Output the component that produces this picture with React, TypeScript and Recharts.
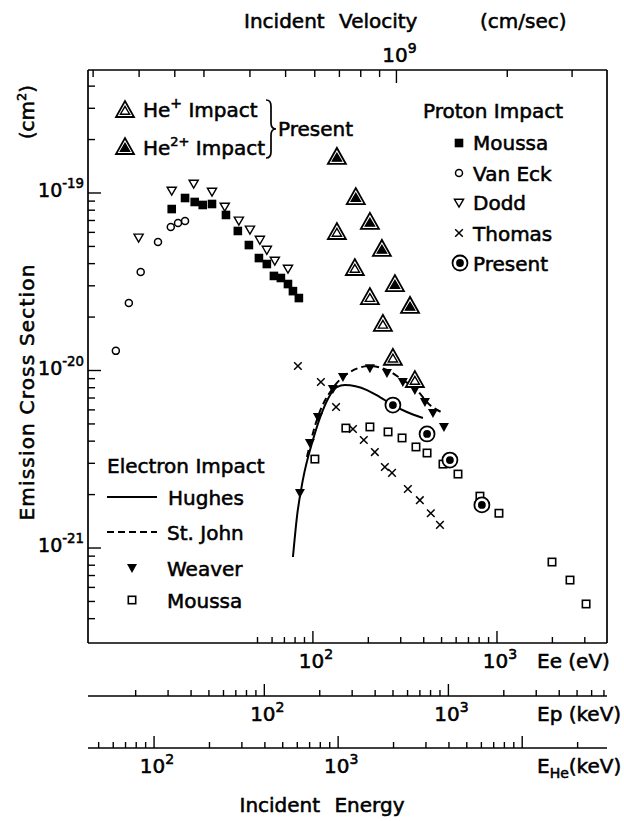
import React from "react";
import { ComposedChart, XAxis, YAxis, Scatter, Line } from "recharts";

// x values on the electron energy scale (eV), cross sections in units of 1e-21 cm^2
const vanEckE = [8.5, 10.0, 11.6, 14.4, 16.9, 18.5, 20.2];
const vanEckS = [12.9, 24.0, 35.9, 53.0, 64.3, 67.8, 69.6];

const doddE = [11.3, 17.1, 22.5, 28.3, 33.2, 39.6, 45.5, 51.5, 56.2, 62.1, 73.2];
const doddS = [55.8, 102.6, 112.4, 101.3, 83.4, 69.6, 61.9, 54.3, 47.7, 41.4, 37.3];

const moussaPE = [17.1, 20.2, 22.8, 25.2, 28.3, 33.7, 39.1, 44.9, 50.9, 56.2, 61.4, 67.0, 73.2, 77.9, 83.9];
const moussaPS = [81.2, 93.7, 89.0, 85.6, 86.7, 75.2, 61.1, 50.9, 43.0, 39.8, 34.1, 33.2, 30.7, 28.0, 25.6];

const thomasE = [82.9, 110.5, 133.6, 165, 189, 217, 246, 269, 328, 381, 437, 490];
const thomasS = [10.6, 8.61, 6.23, 4.68, 4.06, 3.47, 2.86, 2.65, 2.15, 1.86, 1.57, 1.35];

const presentPE = [272, 417, 555, 828];
const presentPS = [6.39, 4.39, 3.13, 1.75];

const heSingleE = [135, 169, 204, 240, 272, 358];
const heSingleS = [60.3, 37.8, 25.9, 18.3, 11.8, 8.84];

const heDoubleE = [135, 171, 204, 237, 279, 337];
const heDoubleS = [159.6, 94.9, 68.7, 48.4, 30.7, 23.1];

const weaverE = [85, 96.3, 106.4, 128.4, 145.6, 204, 252.5, 308, 358, 406, 449, 515];
const weaverS = [2.04, 3.91, 5.47, 7.87, 9.19, 10.3, 9.68, 8.61, 7.76, 6.65, 5.77, 4.81];

const moussaEE = [102.5, 151, 204, 256, 305, 363, 417, 509, 614, 808, 1025, 1990, 2493, 3048];
const moussaES = [3.17, 4.74, 4.81, 4.51, 4.17, 3.71, 3.43, 2.97, 2.61, 1.96, 1.57, 0.834, 0.66, 0.484];

const hughesE = [77.9, 81.9, 88.2, 100, 113.3, 135, 149, 196.6, 231, 272, 324, 396];
const hughesS = [0.89, 1.5, 2.42, 4.06, 5.99, 8.07, 8.28, 7.76, 7.09, 6.39, 5.84, 5.4];

const stJohnE = [92.8, 105, 128.4, 145.6, 204, 252.5, 308, 358, 432, 509];
const stJohnS = [3.26, 5.26, 7.97, 9.19, 10.6, 10.07, 8.84, 7.97, 6.39, 5.77];

// tick lists
const eeTicks = [50, 60, 70, 80, 90, 100, 200, 300, 400, 500, 600, 700, 800, 900, 1000, 2000, 3000];
const epTicks = [20, 30, 40, 50, 60, 70, 80, 90, 100, 200, 300, 400, 500, 600, 700, 800, 900, 1000, 2000, 3000, 4000, 5000, 6000, 7000];
const heTicks = [50, 60, 70, 80, 90, 100, 200, 300, 400, 500, 600, 700, 800, 900, 1000, 2000, 3000, 4000, 5000, 6000, 7000, 8000, 9000, 10000, 20000];
const velTicks = [0.15, 0.2, 0.25, 0.3, 0.4, 0.5, 0.6, 0.7, 0.8, 0.9, 1, 2, 3];
const sigTicks = [0.4, 0.5, 0.6, 0.7, 0.8, 0.9, 1, 2, 3, 4, 5, 6, 7, 8, 9, 10, 20, 30, 40, 50, 60, 70, 80, 90, 100, 200, 300, 400];

// same-velocity conversions onto the electron energy scale
const EP_EE = 0.5446; // eV (electron) per keV (proton)
const HE_EE = 0.1371; // eV (electron) per keV (He)
const VEL_EE = 284.3; // eV (electron) at 1e9 cm/sec

const EE_DOMAIN = [6, 3960];
const SIG_DOMAIN = [0.2917, 493];

const FONT = "'DejaVu Sans', sans-serif";
const K = "#000";
// heavier strokes to look like the inked lettering
const INK = { stroke: K, strokeWidth: 0.55 };

const pts = (xs: number[], ys: number[]) => xs.map((x, i) => ({ x, y: ys[i] }));

const isDecade = (v: number) => {
  const l = Math.log10(v);
  return Math.abs(l - Math.round(l)) < 1e-4;
};

function Pow({ x, y, exp, anchor = "middle", size = 20 }: any) {
  return (
    <text x={x} y={y} fontSize={size} fontFamily={FONT} textAnchor={anchor} fill={K} {...INK}>
      10
      <tspan dy={-size * 0.45} fontSize={size * 0.7}>
        {exp}
      </tspan>
    </text>
  );
}

// markers
const FilledSquare = ({ cx, cy }: any) => <rect x={cx - 4.3} y={cy - 4.3} width={8.6} height={8.6} fill={K} />;
const OpenCircle = ({ cx, cy }: any) => (
  <circle cx={cx} cy={cy} r={3.5} fill="#fff" stroke={K} strokeWidth={1.5} />
);
const OpenDown = ({ cx, cy }: any) => (
  <path
    d={`M${cx - 4.6},${cy - 3.8}L${cx + 4.6},${cy - 3.8}L${cx},${cy + 4.2}Z`}
    fill="#fff"
    stroke={K}
    strokeWidth={1.4}
  />
);
const Cross = ({ cx, cy }: any) => (
  <path
    d={`M${cx - 3.8},${cy - 3.8}L${cx + 3.8},${cy + 3.8}M${cx + 3.8},${cy - 3.8}L${cx - 3.8},${cy + 3.8}`}
    stroke={K}
    strokeWidth={1.5}
  />
);
const PresentMark = ({ cx, cy }: any) => (
  <g>
    <circle cx={cx} cy={cy} r={7.5} fill="#fff" stroke={K} strokeWidth={1.8} />
    <circle cx={cx} cy={cy} r={3.9} fill={K} />
  </g>
);
const FilledDown = ({ cx, cy }: any) => (
  <path d={`M${cx - 5},${cy - 4}L${cx + 5},${cy - 4}L${cx},${cy + 5}Z`} fill={K} />
);
const OpenSquare = ({ cx, cy }: any) => (
  <rect x={cx - 3.7} y={cy - 3.7} width={7.4} height={7.4} fill="#fff" stroke={K} strokeWidth={1.6} />
);
const HeTri = ({ cx, cy, filled }: any) => (
  <g>
    <path
      d={`M${cx - 9},${cy + 7}L${cx + 9},${cy + 7}L${cx},${cy - 9}Z`}
      fill="#fff"
      stroke={K}
      strokeWidth={1.8}
      strokeLinejoin="miter"
    />
    <path
      d={`M${cx - 4.6},${cy + 4.2}L${cx + 4.6},${cy + 4.2}L${cx},${cy - 3.6}Z`}
      fill={filled ? K : "#fff"}
      stroke={K}
      strokeWidth={1.4}
    />
  </g>
);

// axis ticks
const bottomTick = (conv: number, labelled: number[]) => (p: any) => {
  const orig = p.payload.value / conv;
  const major = isDecade(orig);
  const exp = Math.round(Math.log10(orig));
  return (
    <g>
      <line x1={p.x} x2={p.x} y1={p.y} y2={p.y - (major ? 12 : 6)} stroke={K} strokeWidth={1.4} />
      {major && labelled.includes(exp) ? <Pow x={p.x + 3} y={p.y + 25} exp={exp} /> : null}
    </g>
  );
};

const TopTick = (p: any) => {
  const v = Math.sqrt(p.payload.value / VEL_EE);
  const major = isDecade(v);
  return (
    <g>
      <line x1={p.x} x2={p.x} y1={p.y} y2={p.y + (major ? 13 : 7)} stroke={K} strokeWidth={1.4} />
      {major ? <Pow x={p.x + 3} y={p.y - 8} exp={9} /> : null}
    </g>
  );
};

const LeftTick = (p: any) => {
  const v = p.payload.value;
  const major = isDecade(v);
  const exp = Math.round(Math.log10(v)) - 21;
  return (
    <g>
      <line x1={p.x} x2={p.x + (major ? 13 : 7)} y1={p.y} y2={p.y} stroke={K} strokeWidth={1.4} />
      {major ? <Pow x={p.x - 4} y={p.y + 4} exp={`-${-exp}`} anchor="end" size={19} /> : null}
    </g>
  );
};

const lineStyle = { stroke: K, strokeWidth: 1.7 };

function Overlay() {
  const t = { fontFamily: FONT, fontSize: 20, fill: K, ...INK };
  return (
    <svg
      width={624}
      height={821}
      style={{ position: "absolute", left: 0, top: 0, pointerEvents: "none" }}
    >
      {/* top axis title */}
      <text x={244} y={28} {...t} wordSpacing={8}>
        Incident Velocity
      </text>
      <text x={480} y={28} {...t}>
        (cm/sec)
      </text>

      {/* y axis title */}
      <text transform="translate(34,392) rotate(-90)" textAnchor="middle" {...t} letterSpacing={1.2}>
        Emission Cross Section
      </text>
      <text transform="translate(34,112) rotate(-90)" textAnchor="middle" {...t}>
        (cm<tspan dy={-8} fontSize={13}>2</tspan>
        <tspan dy={8}>)</tspan>
      </text>

      {/* He legend */}
      <HeTri cx={125} cy={110} filled={false} />
      <text x={143} y={117} {...t}>
        He<tspan dy={-9} fontSize={14}>+</tspan>
        <tspan dy={9}>  Impact</tspan>
      </text>
      <HeTri cx={125} cy={147} filled />
      <text x={143} y={155} {...t}>
        He<tspan dy={-9} fontSize={13}>2+</tspan>
        <tspan dy={9}> Impact</tspan>
      </text>
      <path
        d="M266,100 Q271,100 271,106 L271,123 Q271,129 276,129 Q271,129 271,135 L271,152 Q271,158 266,158"
        fill="none"
        stroke={K}
        strokeWidth={1.7}
      />
      <text x={278} y={136} {...t}>
        Present
      </text>

      {/* proton legend */}
      <text x={423} y={118} {...t}>
        Proton Impact
      </text>
      <FilledSquare cx={459} cy={143} />
      <text x={473} y={150} {...t}>
        Moussa
      </text>
      <OpenCircle cx={459} cy={173} />
      <text x={473} y={181} {...t}>
        Van Eck
      </text>
      <OpenDown cx={459} cy={203} />
      <text x={473} y={210} {...t}>
        Dodd
      </text>
      <Cross cx={459} cy={233} />
      <text x={473} y={241} {...t}>
        Thomas
      </text>
      <PresentMark cx={460} cy={263} />
      <text x={473} y={271} {...t}>
        Present
      </text>

      {/* electron legend */}
      <text x={107} y={473} {...t}>
        Electron Impact
      </text>
      <line x1={107} x2={157} y1={497} y2={497} stroke={K} strokeWidth={2} />
      <text x={168} y={505} {...t}>
        Hughes
      </text>
      <line x1={107} x2={157} y1={532} y2={532} stroke={K} strokeWidth={2} strokeDasharray="7 4" />
      <text x={167} y={540} {...t}>
        St. John
      </text>
      <FilledDown cx={132} cy={568} />
      <text x={167} y={576} {...t}>
        Weaver
      </text>
      <OpenSquare cx={132} cy={600} />
      <text x={167} y={608} {...t}>
        Moussa
      </text>

      {/* bottom axis names */}
      <text x={537} y={668} {...t}>
        Ee (eV)
      </text>
      <text x={537} y={721} {...t}>
        Ep (keV)
      </text>
      <text x={537} y={773} {...t}>
        E<tspan dy={5} fontSize={14}>He</tspan>
        <tspan dy={-5}>(keV)</tspan>
      </text>
      <text x={322} y={812} {...t} textAnchor="middle" wordSpacing={8}>
        Incident Energy
      </text>
    </svg>
  );
}

export default function App() {
  const axisCommon = {
    type: "number" as const,
    dataKey: "x",
    scale: "log" as const,
    domain: EE_DOMAIN,
    allowDataOverflow: true,
    interval: 0 as const,
    tickSize: 0,
    tickMargin: 0,
    tickLine: false,
    axisLine: lineStyle,
  };
  return (
    <div style={{ position: "absolute", left: 0, top: 0, width: 624, height: 821, background: "#fff" }}>
      <ComposedChart width={624} height={821} margin={{ top: 30, right: 7, bottom: 13, left: 28 }}>
        <XAxis {...axisCommon} xAxisId="ee" orientation="bottom" height={53} ticks={eeTicks} tick={bottomTick(1, [2, 3])} />
        <XAxis
          {...axisCommon}
          xAxisId="ep"
          orientation="bottom"
          height={52}
          ticks={epTicks.map((v) => v * EP_EE)}
          tick={bottomTick(EP_EE, [2, 3])}
        />
        <XAxis
          {...axisCommon}
          xAxisId="he"
          orientation="bottom"
          height={60}
          ticks={heTicks.map((v) => v * HE_EE)}
          tick={bottomTick(HE_EE, [2, 3])}
        />
        <XAxis
          {...axisCommon}
          xAxisId="vel"
          orientation="top"
          height={40}
          ticks={velTicks.map((v) => v * v * VEL_EE)}
          tick={TopTick}
        />
        <YAxis
          yAxisId="s"
          type="number"
          dataKey="y"
          scale="log"
          domain={SIG_DOMAIN}
          allowDataOverflow
          width={60}
          ticks={sigTicks}
          interval={0}
          tickSize={0}
          tickMargin={0}
          tickLine={false}
          axisLine={lineStyle}
          tick={LeftTick}
        />
        <YAxis
          yAxisId="r"
          orientation="right"
          type="number"
          domain={[0, 1]}
          allowDataOverflow
          width={10}
          tick={false}
          tickLine={false}
          axisLine={lineStyle}
        />

        <Line
          xAxisId="ee"
          yAxisId="s"
          data={pts(hughesE, hughesS)}
          dataKey="y"
          type="monotone"
          stroke={K}
          strokeWidth={2}
          dot={false}
          isAnimationActive={false}
        />
        <Line
          xAxisId="ee"
          yAxisId="s"
          data={pts(stJohnE, stJohnS)}
          dataKey="y"
          type="monotone"
          stroke={K}
          strokeWidth={2}
          strokeDasharray="7 4"
          dot={false}
          isAnimationActive={false}
        />

        <Scatter xAxisId="ee" yAxisId="s" data={pts(moussaEE, moussaES)} shape={OpenSquare} isAnimationActive={false} />
        <Scatter xAxisId="ee" yAxisId="s" data={pts(vanEckE, vanEckS)} shape={OpenCircle} isAnimationActive={false} />
        <Scatter xAxisId="ee" yAxisId="s" data={pts(doddE, doddS)} shape={OpenDown} isAnimationActive={false} />
        <Scatter xAxisId="ee" yAxisId="s" data={pts(moussaPE, moussaPS)} shape={FilledSquare} isAnimationActive={false} />
        <Scatter xAxisId="ee" yAxisId="s" data={pts(thomasE, thomasS)} shape={Cross} isAnimationActive={false} />
        <Scatter xAxisId="ee" yAxisId="s" data={pts(weaverE, weaverS)} shape={FilledDown} isAnimationActive={false} />
        <Scatter xAxisId="ee" yAxisId="s" data={pts(presentPE, presentPS)} shape={PresentMark} isAnimationActive={false} />
        <Scatter
          xAxisId="ee"
          yAxisId="s"
          data={pts(heSingleE, heSingleS)}
          shape={(p: any) => <HeTri cx={p.cx} cy={p.cy} filled={false} />}
          isAnimationActive={false}
        />
        <Scatter
          xAxisId="ee"
          yAxisId="s"
          data={pts(heDoubleE, heDoubleS)}
          shape={(p: any) => <HeTri cx={p.cx} cy={p.cy} filled />}
          isAnimationActive={false}
        />
      </ComposedChart>
      <Overlay />
    </div>
  );
}
